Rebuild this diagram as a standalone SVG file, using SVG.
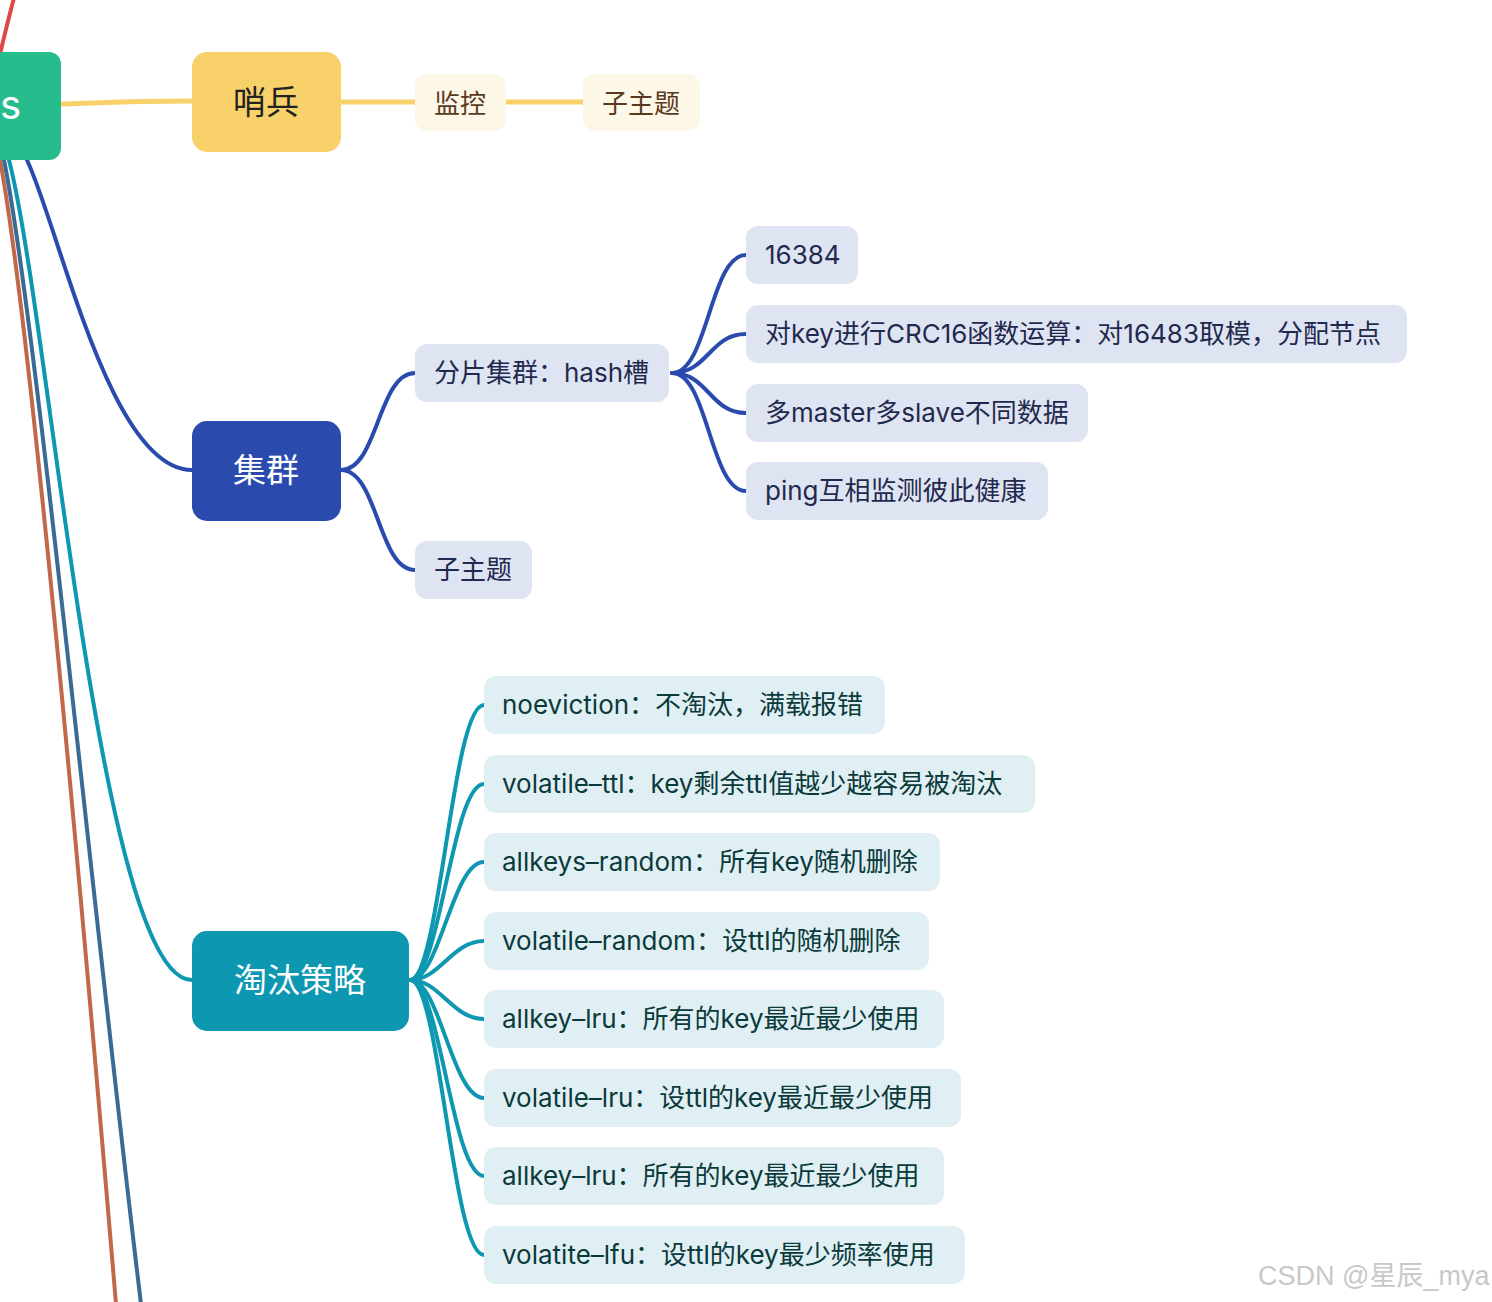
<svg xmlns="http://www.w3.org/2000/svg" width="1492" height="1302" viewBox="0 0 1492 1302">
<style>
text{font-family:Inter,"Noto Sans CJK SC",sans-serif;dominant-baseline:central}
.main{font-size:33px;text-anchor:middle;font-family:"Noto Sans CJK SC",sans-serif}
.sub{font-size:26px}
.c{fill:none;stroke-linecap:round}
.yl{stroke:#f8d16a;stroke-width:5}
.bl{stroke:#2a4bad;stroke-width:4}
.tl{stroke:#0e97b0;stroke-width:4}
.ysub rect{fill:#fdf7e8}.ysub text{fill:#5a3a1e;text-anchor:middle;font-family:"Noto Sans CJK SC",sans-serif}
.bsub rect{fill:#dfe4f2}.bsub text{fill:#1f2a4e}
.tsub rect{fill:#e0eff4}.tsub text{fill:#0b3a3a}
</style>
<rect width="1492" height="1302" fill="#ffffff"/>
<g id="connectors">
<path class="c" d="M -2,62 C 4,38 9,16 14,-2" stroke="#e04848" stroke-width="4"/>
<path class="c" d="M 0,160 C 30,320 82,900 116,1304" stroke="#c0694a" stroke-width="4"/>
<path class="c" d="M 4,160 C 36,320 92,900 141,1304" stroke="#3a6b94" stroke-width="4"/>
<path class="c tl" d="M 9,160 C 50,320 100,980 192,980"/>
<path class="c bl" d="M 27,160 C 60,230 110,470 192,470"/>
<path class="c yl" d="M 61,104 C 120,102 140,101 192,101"/>
<path class="c yl" d="M 341,102 L 415,102"/>
<path class="c yl" d="M 506,102 L 583,102"/>
<path class="c bl" d="M 341,470 C 378,470 378,373 415,373"/>
<path class="c bl" d="M 341,470 C 378,470 378,570 415,570"/>
<path class="c bl" d="M 672,373 C 708,373 710,255 746,255"/>
<path class="c bl" d="M 672,373 C 708,373 710,334 746,334"/>
<path class="c bl" d="M 672,373 C 708,373 710,413 746,413"/>
<path class="c bl" d="M 672,373 C 708,373 710,491 746,491"/>
<path class="c tl" d="M 410,980 C 440,980 452,705 484,705"/>
<path class="c tl" d="M 410,980 C 440,980 452,784 484,784"/>
<path class="c tl" d="M 410,980 C 440,980 452,862 484,862"/>
<path class="c tl" d="M 410,980 C 440,980 452,941 484,941"/>
<path class="c tl" d="M 410,980 C 440,980 452,1019 484,1019"/>
<path class="c tl" d="M 410,980 C 440,980 452,1098 484,1098"/>
<path class="c tl" d="M 410,980 C 440,980 452,1176 484,1176"/>
<path class="c tl" d="M 410,980 C 440,980 452,1255 484,1255"/>
</g>
<g id="root"><rect x="-40" y="52" width="101" height="108" rx="12" fill="#27bc8d"/><text x="0" y="104" style="font-size:40px;fill:#fff;font-family:Inter,sans-serif">s</text></g>
<g id="n-shaobing"><rect x="192" y="52" width="149" height="100" rx="15" fill="#f8d16a"/><text class="main" x="266" y="100" fill="#222">哨兵</text></g>
<g id="n-jiankong" class="ysub"><rect x="415" y="74" width="91" height="57" rx="12"/><text class="sub" x="460" y="101">监控</text></g>
<g id="n-zizhuti1" class="ysub"><rect x="583" y="74" width="117" height="57" rx="12"/><text class="sub" x="641" y="101">子主题</text></g>
<g id="n-jiqun"><rect x="192" y="421" width="149" height="100" rx="15" fill="#2a4bad"/><text class="main" x="266" y="468" fill="#fff">集群</text></g>
<g id="n-fenpian" class="bsub"><rect x="415" y="344" width="254" height="58" rx="12"/><text class="sub" x="434" y="372">分片集群：hash槽</text></g>
<g id="n-zizhuti2" class="bsub"><rect x="415" y="541" width="117" height="58" rx="12"/><text class="sub" x="434" y="569">子主题</text></g>
<g id="n-16384" class="bsub"><rect x="746" y="226" width="112" height="58" rx="12"/><text class="sub" x="765" y="254">16384</text></g>
<g id="n-crc" class="bsub"><rect x="746" y="305" width="661" height="58" rx="12"/><text class="sub" x="765" y="333">对key进行CRC16函数运算：对16483取模，分配节点</text></g>
<g id="n-master" class="bsub"><rect x="746" y="384" width="342" height="58" rx="12"/><text class="sub" x="765" y="412">多master多slave不同数据</text></g>
<g id="n-ping" class="bsub"><rect x="746" y="462" width="302" height="58" rx="12"/><text class="sub" x="765" y="490">ping互相监测彼此健康</text></g>
<g id="n-taotai"><rect x="192" y="931" width="217" height="100" rx="15" fill="#0e97b0"/><text class="main" x="300" y="978" fill="#fff">淘汰策略</text></g>
<g id="n-t1" class="tsub"><rect x="484" y="676" width="401" height="58" rx="12"/><text class="sub" x="502" y="704">noeviction：不淘汰，满载报错</text></g>
<g id="n-t2" class="tsub"><rect x="484" y="755" width="551" height="58" rx="12"/><text class="sub" x="502" y="783">volatile–ttl：key剩余ttl值越少越容易被淘汰</text></g>
<g id="n-t3" class="tsub"><rect x="484" y="833" width="456" height="58" rx="12"/><text class="sub" x="502" y="861">allkeys–random：所有key随机删除</text></g>
<g id="n-t4" class="tsub"><rect x="484" y="912" width="445" height="58" rx="12"/><text class="sub" x="502" y="940">volatile–random：设ttl的随机删除</text></g>
<g id="n-t5" class="tsub"><rect x="484" y="990" width="460" height="58" rx="12"/><text class="sub" x="502" y="1018">allkey–lru：所有的key最近最少使用</text></g>
<g id="n-t6" class="tsub"><rect x="484" y="1069" width="477" height="58" rx="12"/><text class="sub" x="502" y="1097">volatile–lru：设ttl的key最近最少使用</text></g>
<g id="n-t7" class="tsub"><rect x="484" y="1147" width="460" height="58" rx="12"/><text class="sub" x="502" y="1175">allkey–lru：所有的key最近最少使用</text></g>
<g id="n-t8" class="tsub"><rect x="484" y="1226" width="481" height="58" rx="12"/><text class="sub" x="502" y="1254">volatite–lfu：设ttl的key最少频率使用</text></g>
<text x="1258" y="1276" style="font-size:27px;fill:#c8c8c8;font-family:'Liberation Sans','Noto Sans CJK SC',sans-serif">CSDN @星辰_mya</text>
</svg>
